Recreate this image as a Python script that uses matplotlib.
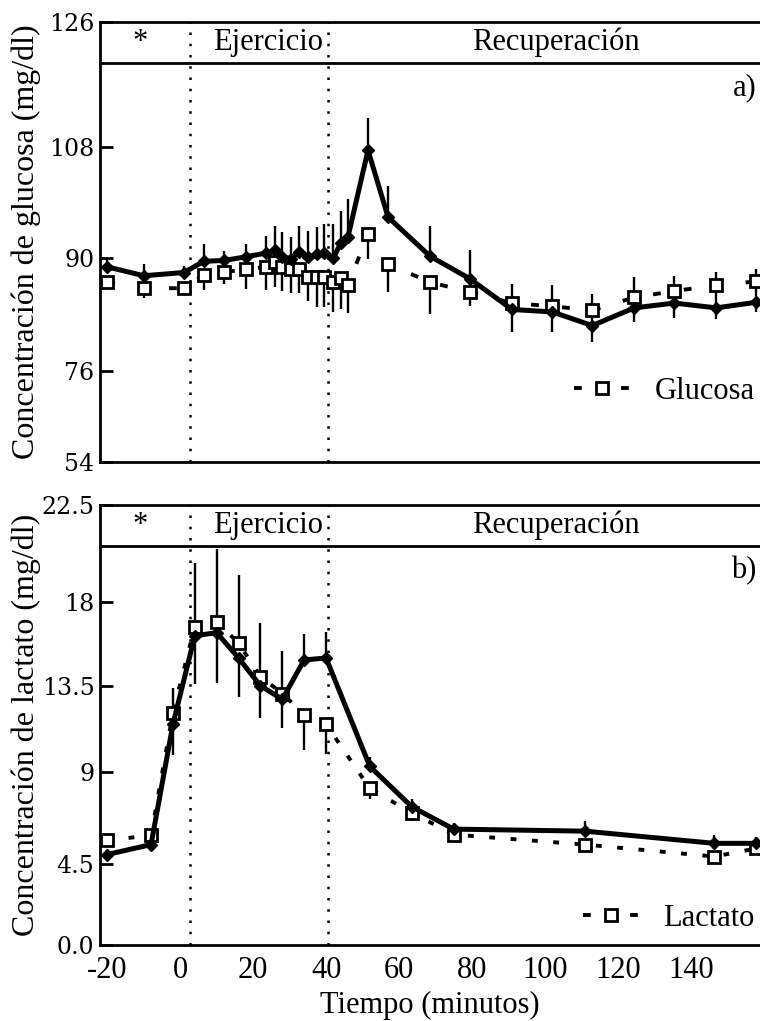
import numpy as np
import matplotlib
matplotlib.use('Agg')
import matplotlib.pyplot as plt
from matplotlib.lines import Line2D

plt.rcParams['font.family'] = ['Liberation Serif', 'DejaVu Serif']
plt.rcParams['axes.unicode_minus'] = False

# ---- data (panel a: glucosa) ----
t_glu = [-20, -10, 1, 6.5, 12, 18, 23.5, 26, 28, 30.5, 32.5, 35, 37.5, 39.5, 42, 44, 46,
         51.5, 57, 68.5, 79.5, 91, 102, 113, 124.5, 135.5, 147, 158]
glu_solid = [88.9, 87.8, 88.2, 89.6, 89.7, 90.2, 90.8, 91.3, 90.2, 89.9, 91.0, 90.2, 90.6, 90.8,
             90.0, 92.4, 93.4, 107.4, 96.6, 90.3, 87.4, 83.6, 83.3, 81.6, 83.8, 84.4, 83.8, 84.5]
glu_solid_up = [1.3, 1.4, 0.8, 2.7, 1.5, 2.1, 2.8, 3.9, 4.0, 3.5, 4.2, 4.2, 4.4, 4.7, 5.5, 5.2, 6.2,
                4.7, 5.1, 4.9, 3.9, 3.15, 3.3, 3.9, 3.8, 3.35, 4.45, 4.1]
glu_solid_lo = [0] * 21 + [2.85, 2.55, 2.1, 1.8, 1.8, 1.4, 1.25]
glu_sq = [87.0, 86.25, 86.25, 87.9, 88.25, 88.6, 88.9, 89.5, 88.9, 88.6, 88.6, 87.6, 87.6, 87.6,
          87.0, 87.5, 86.6, 93.9, 89.25, 87.0, 85.75, 84.4, 84.0, 83.5, 85.1, 85.9, 86.6, 87.1]
glu_sq_lo = [0.6, 1.2, 0.5, 1.9, 1.5, 2.5, 2.9, 3.1, 3.0, 2.9, 2.9, 3.0, 3.7, 3.7, 3.75, 3.9, 3.4,
             4.0, 3.5, 4.0, 1.75, 0, 0, 0, 0, 0, 0, 0]

# ---- data (panel b: lactato) ----
t_lac = [-20, -8, -2, 4, 10, 16, 22, 28, 34, 40, 52, 63.5, 75, 111, 146.5, 158]
lac_solid = [4.95, 5.44, 11.5, 16.2, 16.37, 15.0, 13.5, 12.8, 14.9, 15.0, 9.3, 7.3, 6.2, 6.1, 5.5, 5.5]
lac_solid_lo = [0, 0.3, 1.6, 2.6, 2.7, 2.1, 1.7, 1.5, 0, 0, 0, 0.4, 0.3, 0, 0.3, 0.3]
lac_solid_up = [0, 0, 0, 0, 0, 0, 0, 0, 1.4, 1.4, 0.5, 0.4, 0.3, 0.5, 0.4, 0.3]
lac_sq = [5.64, 5.9, 12.1, 16.7, 16.97, 15.8, 14.0, 13.1, 12.0, 11.5, 8.2, 7.0, 5.93, 5.44, 4.85, 5.25]
lac_sq_lo = [0, 0, 0, 0, 0, 0, 0, 0, 1.85, 1.55, 0.5, 0.4, 0.3, 0.3, 0.3, 0.3]
lac_sq_up = [0, 0, 1.3, 3.1, 3.5, 3.45, 2.9, 2.3, 0, 0, 0, 0, 0, 0, 0, 0]

# axis labels of the original (ticks are not evenly spaced in value)
glu_ticks = [54, 76, 90, 108, 126]
glu_tick_pos = [0, 91, 203, 314, 438]
lac_ticks = [0, 4.5, 9, 13.5, 18, 22.5]
lac_tick_labels = ['0.0', '4.5', '9', '13.5', '18', '22.5']
lac_tick_pos = [0, 81, 172, 258, 341, 438]
x_ticks = [-20, 0, 20, 40, 60, 80, 100, 120, 140]
x_marks = [20, 60, 80, 100, 120, 140]
phase_lines = [2.7, 40.5]


def piecewise(vals, pos):
    fwd = lambda v: np.interp(v, vals, pos)
    inv = lambda p: np.interp(p, pos, vals)
    return fwd, inv


def setup(ax, ticks, pos, labels, panel):
    ax.set_yscale('function', functions=piecewise(ticks, pos))
    ax.set_ylim(ticks[0], ticks[-1])
    ax.set_xlim(-22, 159)
    ax.set_yticks(ticks)
    ax.set_yticklabels(labels)
    ax.set_xticks(x_ticks)
    ax.set_xticks(x_marks, minor=True)
    ax.tick_params(axis='x', which='major', length=0, labelsize=22, pad=8)
    ax.tick_params(axis='x', which='minor', direction='in', length=9, width=2)
    ax.tick_params(axis='y', direction='in', length=9, width=2, labelsize=17, pad=4)
    for lab in ax.get_yticklabels():
        lab.set_family('DejaVu Serif')
    ax.spines['right'].set_visible(False)
    for s in ['left', 'bottom', 'top']:
        ax.spines[s].set_linewidth(2)
    # header band
    ax.plot([0, 1], [0.907, 0.907], transform=ax.transAxes, color='black', lw=2, clip_on=False)
    for x in phase_lines:
        ax.axvline(x, color='black', ls=(0, (1, 3.5)), lw=1.8)
    tr = ax.get_xaxis_transform()
    ax.text(-11, 0.953, '*', transform=tr, ha='center', va='center', fontsize=22)
    ax.text(24, 0.953, 'Ejercicio', transform=tr, ha='center', va='center', fontsize=22)
    ax.text(103, 0.953, 'Recuperación', transform=tr, ha='center', va='center', fontsize=22)
    ax.text(0.995, 0.85, panel, transform=ax.transAxes, ha='right', va='center', fontsize=22)


fig = plt.figure(figsize=(7.6, 10.21), dpi=100)
ax1 = fig.add_axes([0.1316, 0.5475, 0.8684, 0.431])
ax2 = fig.add_axes([0.1316, 0.0744, 0.8684, 0.431])

setup(ax1, glu_ticks, glu_tick_pos, [str(v) for v in glu_ticks], 'a)')
setup(ax2, lac_ticks, lac_tick_pos, lac_tick_labels, 'b)')
ax1.set_xticklabels([])

# panel a
ax1.errorbar(t_glu, glu_solid, yerr=[glu_solid_lo, glu_solid_up], fmt='none', ecolor='black', elinewidth=1.7)
ax1.errorbar(t_glu, glu_sq, yerr=[glu_sq_lo, [0] * len(glu_sq)], fmt='none', ecolor='black', elinewidth=1.7)
ax1.plot(t_glu, glu_sq, color='black', lw=2.8, dashes=(2, 6), marker='s', ms=8,
         mfc='white', mec='black', mew=2, zorder=3)
ax1.plot(t_glu, glu_solid, color='black', lw=3.6, marker='D', ms=6.5, zorder=4)

# panel b
ax2.errorbar(t_lac, lac_solid, yerr=[lac_solid_lo, lac_solid_up], fmt='none', ecolor='black', elinewidth=1.7)
ax2.errorbar(t_lac, lac_sq, yerr=[lac_sq_lo, lac_sq_up], fmt='none', ecolor='black', elinewidth=1.7)
ax2.plot(t_lac, lac_sq, color='black', lw=2.8, dashes=(1.5, 4), marker='s', ms=8,
         mfc='white', mec='black', mew=2, zorder=3)
ax2.plot(t_lac, lac_solid, color='black', lw=3.6, marker='D', ms=6.5, zorder=4)

# legend handle "- [] -"
for ax, name, yb in [(ax1, 'Glucosa', 0.1), (ax2, 'Lactato', 0.0)]:
    h = Line2D([], [], color='black', lw=2.8, dashes=(2.0, 10.1), marker='s', ms=8,
               mfc='white', mec='black', mew=2)
    ax.legend([h], [name], loc='lower right', bbox_to_anchor=(1.01, yb), frameon=False, fontsize=22,
              handlelength=1.83, handletextpad=0.8, borderaxespad=0)

ax1.set_ylabel('Concentración de glucosa (mg/dl)', fontsize=23)
ax2.set_ylabel('Concentración de lactato (mg/dl)', fontsize=23)
for ax in (ax1, ax2):
    ax.yaxis.set_label_coords(-0.112, 0.5)
    ax.yaxis.label.set_va('center')
ax2.set_xlabel('Tiempo (minutos)', fontsize=22, labelpad=4)

fig.savefig('out.png', dpi=100)
